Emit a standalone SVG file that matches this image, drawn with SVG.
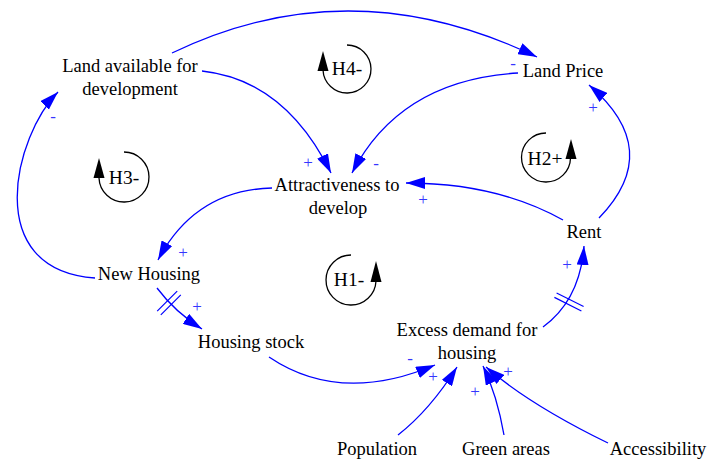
<svg xmlns="http://www.w3.org/2000/svg" width="707" height="463" viewBox="0 0 707 463">
<style>
.n{font-family:"Liberation Serif","Times New Roman",serif;font-size:18.5px;fill:#000;text-anchor:middle}
.lp{font-family:"Liberation Serif","Times New Roman",serif;font-size:19.5px;fill:#000;text-anchor:middle}
.s{font-family:"Liberation Serif","Times New Roman",serif;font-size:17px;fill:#3535ff;text-anchor:middle}
.c{fill:none;stroke:#0000ff;stroke-width:1.3;marker-end:url(#ah)}
.h{fill:none;stroke:#0000ff;stroke-width:1.2}
.la{fill:none;stroke:#000;stroke-width:1.3}
.lh{fill:#000}
</style>
<defs>
<marker id="ah" markerWidth="19" markerHeight="12" refX="19" refY="6" orient="auto" markerUnits="userSpaceOnUse">
<path d="M0,0 L19,6 L0,12 z" fill="#0000ff"/>
</marker>
</defs>
<rect width="707" height="463" fill="#fff"/>
<g id="connectors">
<path class="c" d="M172,53 Q350,-33 537,57"/>
<path class="c" d="M202,71 Q285,80 331,173"/>
<path class="c" d="M518,73 Q400,80 352,173"/>
<path class="c" d="M563,220 Q497,183 406,183"/>
<path class="c" d="M599,218 Q665,150 589,85"/>
<path class="c" d="M272,188 Q195,190 158,260"/>
<path class="c" d="M95,278 C-20,270 15,135 58,92"/>
<path class="c" d="M157,288 Q175,312 202,329"/>
<path class="c" d="M269,357 Q340,405 435,365"/>
<path class="c" d="M543,327 Q580,300 584,246"/>
<path class="c" d="M398,435 Q430,410 457,367"/>
<path class="c" d="M504,435 Q497,395 483,366"/>
<path class="c" d="M608,443 Q530,405 486,367"/>
<path class="h" d="M157.2,311.2 L177.2,291.2 M160.8,314.8 L180.8,294.8"/>
<path class="h" d="M556.6,293 L583.6,306.5 M554.4,297.4 L581.4,311"/>
<text class="s" x="513" y="69">-</text>
<text class="s" x="308" y="168">+</text>
<text class="s" x="376" y="169">-</text>
<text class="s" x="423" y="205">+</text>
<text class="s" x="593" y="113">+</text>
<text class="s" x="183" y="258">+</text>
<text class="s" x="53" y="122">-</text>
<text class="s" x="197" y="312">+</text>
<text class="s" x="410" y="364">-</text>
<text class="s" x="433" y="382">+</text>
<text class="s" x="475" y="397">+</text>
<text class="s" x="508" y="377">+</text>
<text class="s" x="567" y="270">+</text>
</g>
<g id="loop-H1">
<path class="la" d="M351,255 A25,25 0 1 0 376,281"/>
<path class="lh" d="M376,261 L381.5,282 L370.5,282 z"/>
<text class="lp" x="349" y="286">H1-</text>
</g>
<g id="loop-H2">
<path class="la" d="M546,133 A24.5,24.5 0 1 0 570.5,158"/>
<path class="lh" d="M571,139 L576.5,159 L565.5,159 z"/>
<text class="lp" x="545" y="165">H2+</text>
</g>
<g id="loop-H3">
<path class="la" d="M124,152 A25,25 0 1 1 99,178"/>
<path class="lh" d="M99,158 L104.5,178 L93.5,178 z"/>
<text class="lp" x="124" y="184">H3-</text>
</g>
<g id="loop-H4">
<path class="la" d="M347,45 A24,24 0 1 1 323,70"/>
<path class="lh" d="M323,51 L328.5,71 L317.5,71 z"/>
<text class="lp" x="347" y="75">H4-</text>
</g>
<g id="node-land-available"><text class="n" x="130" y="72">Land available for</text><text class="n" x="130" y="95">development</text></g>
<g id="node-land-price"><text class="n" x="563" y="77">Land Price</text></g>
<g id="node-attractiveness"><text class="n" x="337" y="191">Attractiveness to</text><text class="n" x="338" y="214">develop</text></g>
<g id="node-rent"><text class="n" x="584" y="238">Rent</text></g>
<g id="node-new-housing"><text class="n" x="149" y="280">New Housing</text></g>
<g id="node-housing-stock"><text class="n" x="251" y="348">Housing stock</text></g>
<g id="node-excess-demand"><text class="n" x="467" y="336">Excess demand for</text><text class="n" x="467" y="359">housing</text></g>
<g id="node-population"><text class="n" x="377" y="455">Population</text></g>
<g id="node-green-areas"><text class="n" x="506" y="455">Green areas</text></g>
<g id="node-accessibility"><text class="n" x="658" y="455">Accessibility</text></g>
</svg>
